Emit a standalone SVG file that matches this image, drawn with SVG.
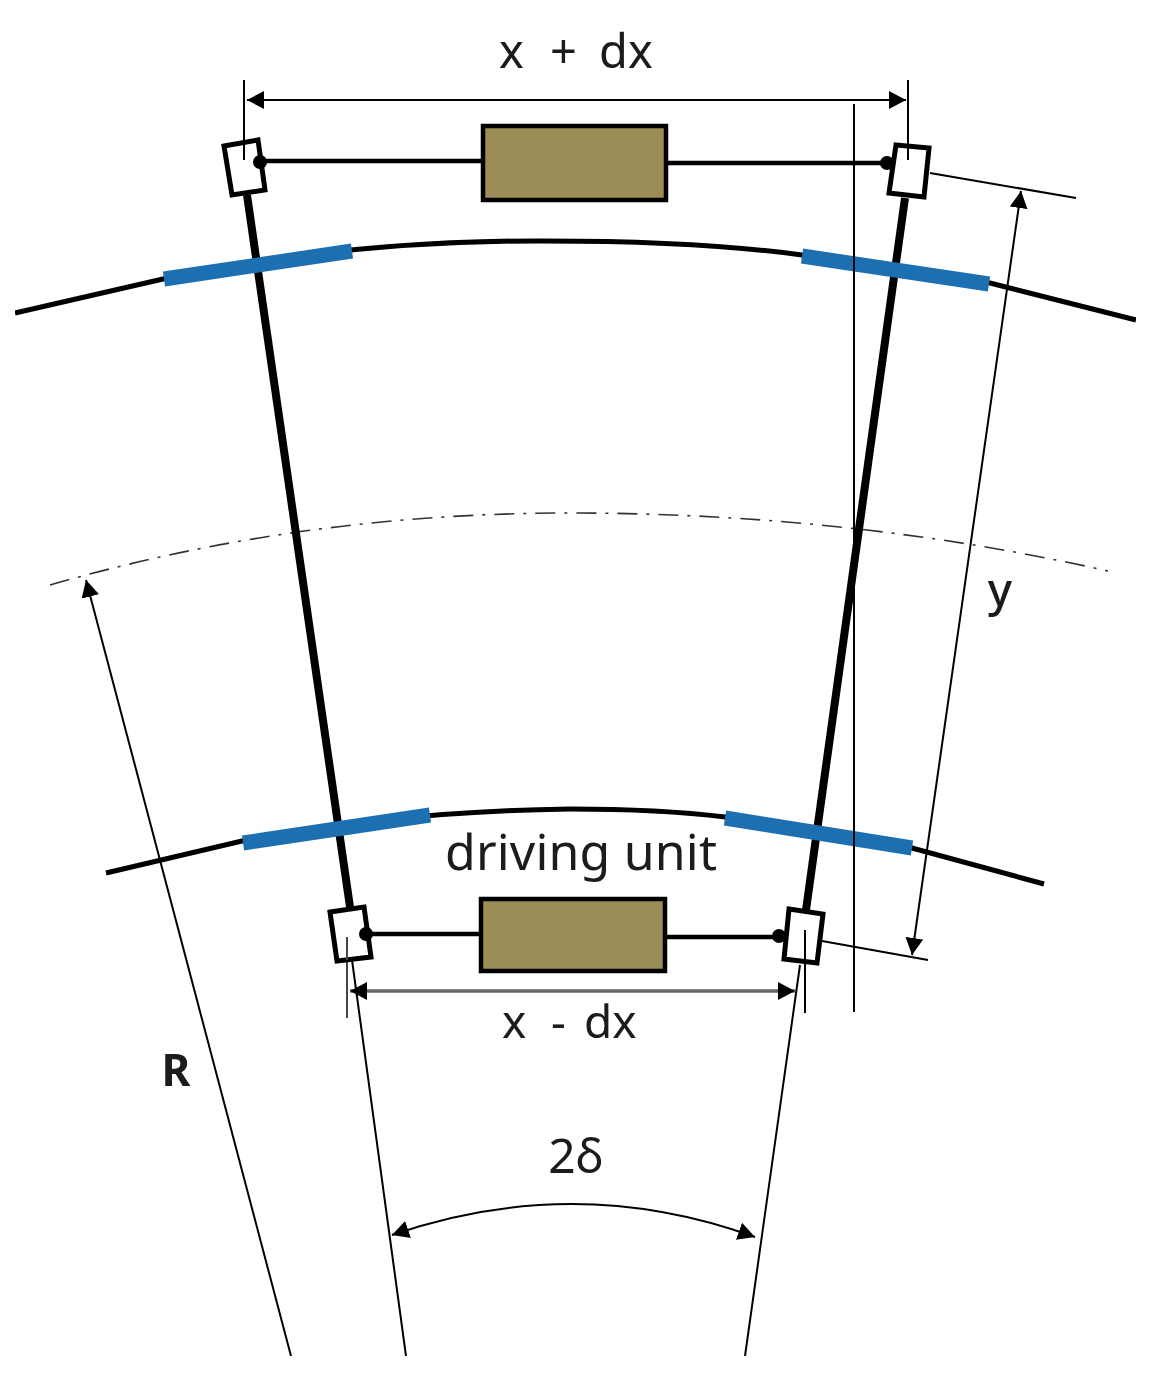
<svg xmlns="http://www.w3.org/2000/svg" width="1160" height="1383" viewBox="0 0 1160 1383">
<style>
.t{font-family:"Noto Sans","Open Sans","Liberation Sans",sans-serif;fill:#1a1a1a}
.thin{fill:none;stroke:#000;stroke-width:2}
.rod{fill:none;stroke:#000;stroke-width:8}
.rail{fill:none;stroke:#000;stroke-width:5}
.blue{fill:none;stroke:#1f6fb2;stroke-width:15;stroke-linejoin:round}
.tie{fill:none;stroke:#000;stroke-width:4.5}
.unit{fill:#9c8c57;stroke:#000;stroke-width:4.5}
.sleeve{fill:#fff;stroke:#000;stroke-width:5}
</style>
<defs>
<marker id="a" markerUnits="userSpaceOnUse" markerWidth="20" markerHeight="20" refX="17" refY="9" orient="auto-start-reverse"><path d="M0 0L17 9L0 18Z" fill="#000"/></marker>
<filter id="soft" x="0" y="0" width="100%" height="100%"><feGaussianBlur stdDeviation="0.6"/></filter>
</defs>
<rect width="1160" height="1383" fill="#fff"/>
<g filter="url(#soft)">
<g id="rails">
<path class="rail" d="M15 313L163 279Q350 240 545 241Q700 241 802 255Q900 268 990 283L1136 320"/>
<path class="rail" d="M106 873L242 841Q400 811 570 809Q660 809 725 817Q830 832 912 848L1044 884"/>
</g>
<g id="connectors">
<path d="M50 585Q300 513 570 513Q850 513 1108 571" fill="none" stroke="#333" stroke-width="1.6" stroke-dasharray="20 9 3 9"/>
<path class="thin" d="M244 80V160M908 80V160M805 930V1013M930 173L1076 198M822 941L928 960M352 960L406 1356M800 965L745 1356"/>
<path d="M347 937V1018" fill="none" stroke="#444" stroke-width="2"/>
<path class="thin" d="M247 100H906" marker-start="url(#a)" marker-end="url(#a)"/>
<path d="M350 991H795" fill="none" stroke="#666" stroke-width="3.6" marker-start="url(#a)" marker-end="url(#a)"/>
<path class="thin" d="M1021 191L912 955" marker-start="url(#a)" marker-end="url(#a)"/>
<path class="thin" d="M86 580L291 1356" marker-start="url(#a)"/>
<path class="thin" d="M392 1235Q575 1172 755 1237" marker-start="url(#a)" marker-end="url(#a)"/>
<path class="rod" d="M247 195L350 907"/>
<path class="rod" d="M905 198L806 910"/>
<path class="tie" d="M260 161H482M666 163H888M366 934H480M665 937H779"/>
</g>
<g id="blue-pads">
<path class="blue" d="M164 279L352 251"/>
<path class="blue" d="M802 256L989 284"/>
<path class="blue" d="M243 843L430 815"/>
<path class="blue" d="M725 818L912 848"/>
</g>
<path class="thin" d="M854 104V1012"/>
<g id="sleeve-top-left"><path class="sleeve" d="M224 146L258 140L265 190L232 195Z"/><circle cx="260" cy="162" r="7"/><path class="thin" d="M244 120V160"/></g>
<g id="sleeve-top-right"><path class="sleeve" d="M896 145L929 148L924 197L889 193Z"/><circle cx="887" cy="163" r="7"/><path class="thin" d="M908 120V160"/></g>
<g id="sleeve-bottom-left"><path class="sleeve" d="M330 912L364 907L371 957L337 961Z"/><circle cx="366" cy="934" r="7"/><path d="M347 937V960" stroke="#444" stroke-width="2"/></g>
<g id="sleeve-bottom-right"><path class="sleeve" d="M789 909L823 914L817 963L784 959Z"/><circle cx="779" cy="936" r="7"/><path class="thin" d="M805 930V960"/></g>
<g id="unit-top"><rect class="unit" x="483" y="126" width="183" height="74"/></g>
<g id="unit-bottom"><rect class="unit" x="481" y="899" width="184" height="72"/></g>
<g id="labels">
<text class="t" y="68" font-size="47"><tspan x="499">x</tspan><tspan x="550">+</tspan><tspan x="599">dx</tspan></text>
<text class="t" x="581" y="870" font-size="50" text-anchor="middle" textLength="272">driving unit</text>
<text class="t" y="1038" font-size="46"><tspan x="502">x</tspan><tspan x="551">-</tspan><tspan x="584">dx</tspan></text>
<text class="t" x="1000" y="606" font-size="46" font-weight="500" text-anchor="middle">y</text>
<text class="t" x="176" y="1086" font-size="44" font-weight="700" text-anchor="middle">R</text>
<text class="t" x="576" y="1173" font-size="48" text-anchor="middle">2δ</text>
</g>
</g>
</svg>
